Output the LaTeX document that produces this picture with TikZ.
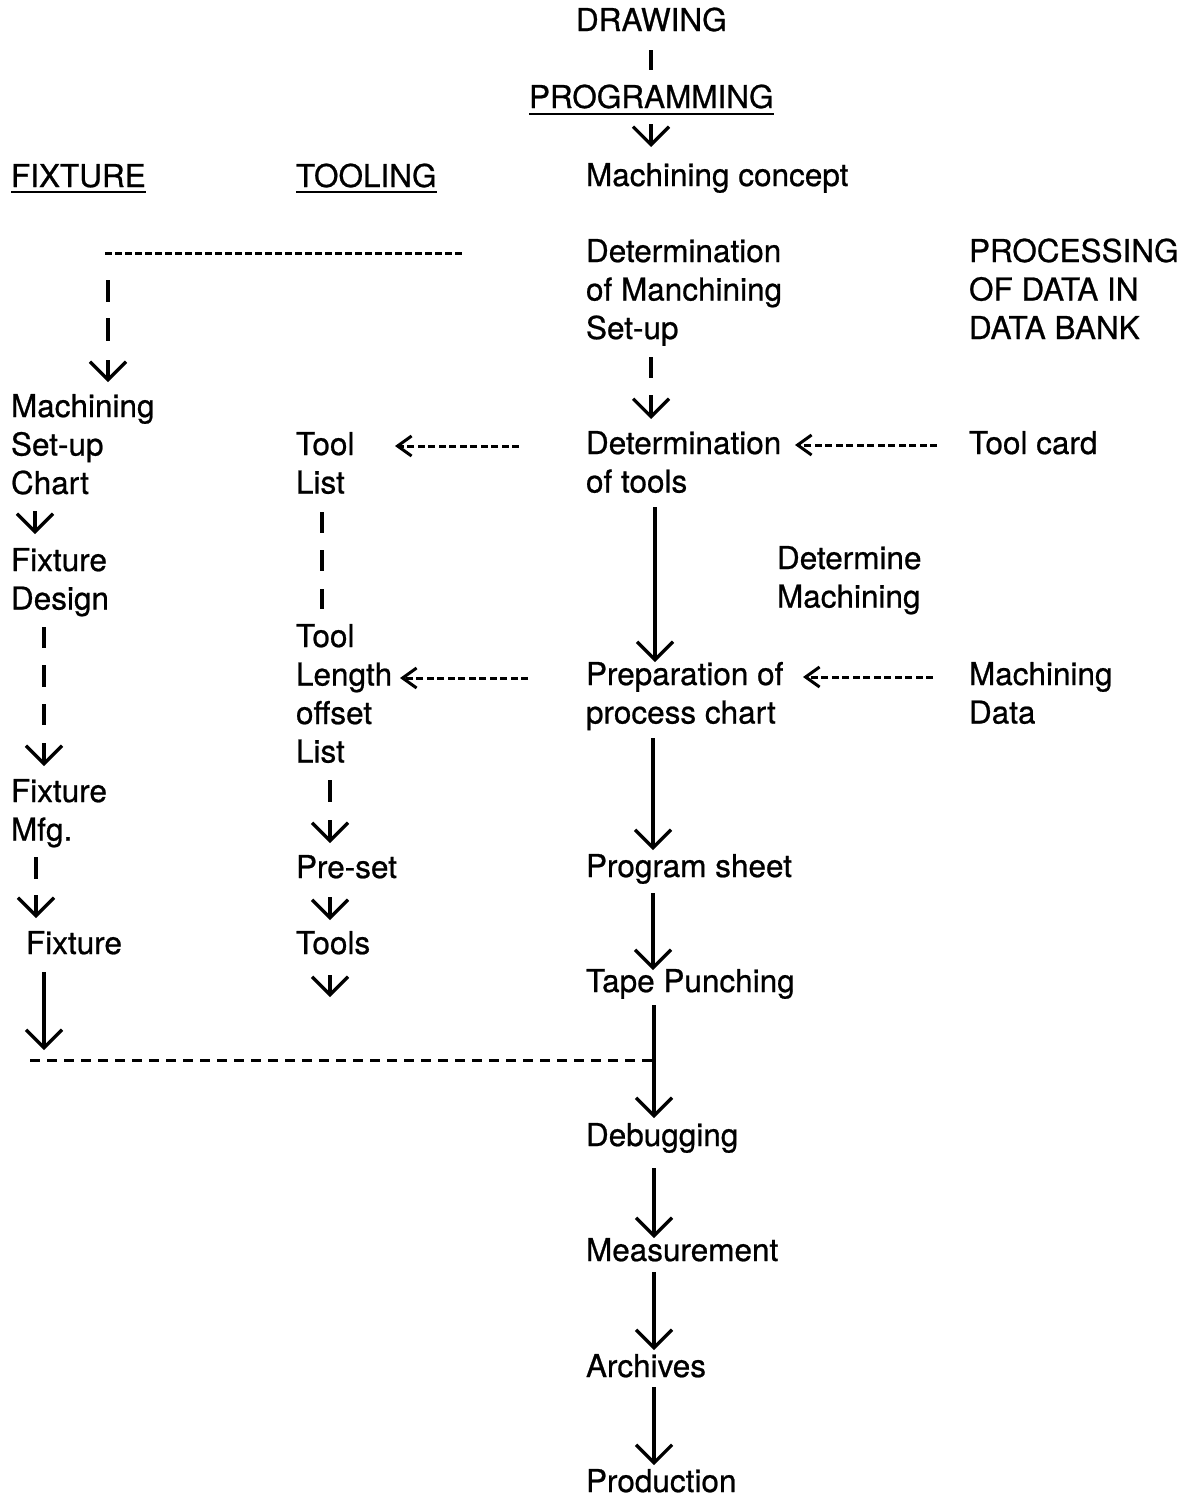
\documentclass[tikz,border=0pt]{standalone}
\usepackage{fontspec}
\setmainfont{TeX Gyre Heros}[FakeBold=0.7]
\usetikzlibrary{arrows.meta}
\newcommand\txl[1]{\begin{tabular}[t]{@{}l@{}}#1\end{tabular}}
\begin{document}
\begin{tikzpicture}[x=1pt,y=-1pt,
  lbl/.style={anchor=base west,inner sep=0pt,outer sep=0pt,font=\fontsize{31.5}{38.5}\selectfont},
  arr/.style={line width=3.2pt,-{Straight Barb[length=18pt,width=36pt]}},
  barline/.style={line width=3.6pt},
  darr/.style={line width=3pt,dash pattern=on 7pt off 3.5pt,-{Straight Barb[length=14pt,width=20pt]}},
  dline/.style={line width=3pt,dash pattern=on 7pt off 3pt},
  dlinewide/.style={line width=3pt,dash pattern=on 10pt off 7pt},
  uline/.style={line width=2.8pt}]
\useasboundingbox[fill=white] (0,0) rectangle (1200,1499);

% ---------- text nodes ----------
\node[lbl] (drawing) at (576,31) {DRAWING};
\node[lbl] (prog) at (529,108) {PROGRAMMING};
\node[lbl] (mconc) at (586,186) {Machining concept};
\node[lbl] (fixh) at (11,187) {FIXTURE};
\node[lbl] (toolh) at (296,187) {TOOLING};
\node[lbl] (detsetup) at (586,262) {\txl{Determination\\of Manchining\\Set-up}};
\node[lbl] (pdb) at (969,262) {\txl{PROCESSING\\OF DATA IN\\DATA BANK}};
\node[lbl] (msc) at (11,417) {\txl{Machining\\Set-up\\Chart}};
\node[lbl] (tlist) at (296,455) {\txl{Tool\\List}};
\node[lbl] (dett) at (586,454) {\txl{Determination\\of tools}};
\node[lbl] (tcard) at (969,454) {Tool card};
\node[lbl] (fdes) at (11,571) {\txl{Fixture\\Design}};
\node[lbl] (detm) at (777,569) {\txl{Determine\\Machining}};
\node[lbl] (tlol) at (296,647) {\txl{Tool\\Length\\offset\\List}};
\node[lbl] (prep) at (586,685) {\txl{Preparation of\\process chart}};
\node[lbl] (mdata) at (969,685) {\txl{Machining\\Data}};
\node[lbl] (fmfg) at (11,802) {\txl{Fixture\\Mfg.}};
\node[lbl] (preset) at (296,878) {Pre-set};
\node[lbl] (psheet) at (586,877) {Program sheet};
\node[lbl] (fixt) at (26,954) {Fixture};
\node[lbl] (tools) at (296,954) {Tools};
\node[lbl] (tape) at (586,992) {Tape Punching};
\node[lbl] (debug) at (586,1146) {Debugging};
\node[lbl] (meas) at (586,1261) {Measurement};
\node[lbl] (arch) at (586,1377) {Archives};
\node[lbl] (prod) at (586,1492) {Production};

% ---------- underlines ----------
\draw[uline] ([yshift=-6pt]prog.base west) -- ([yshift=-6pt]prog.base east);
\draw[uline] ([yshift=-5pt]fixh.base west) -- ([yshift=-5pt]fixh.base east);
\draw[uline] ([yshift=-5pt]toolh.base west) -- ([yshift=-5pt]toolh.base east);

% ---------- connector end points ----------
\coordinate (b1a) at (651,50);  \coordinate (b1b) at (651,70);
\coordinate (b2a) at (108,280); \coordinate (b2b) at (108,302);
\coordinate (b3a) at (108,318); \coordinate (b3b) at (108,341);
\coordinate (b4a) at (651,357); \coordinate (b4b) at (651,378);
\coordinate (b5a) at (322,512); \coordinate (b5b) at (322,533);
\coordinate (b6a) at (322,550); \coordinate (b6b) at (322,571);
\coordinate (b7a) at (322,589); \coordinate (b7b) at (322,609);
\coordinate (b8a) at (44,627);  \coordinate (b8b) at (44,648);
\coordinate (b9a) at (44,665);  \coordinate (b9b) at (44,687);
\coordinate (b10a) at (44,704); \coordinate (b10b) at (44,725);
\coordinate (b11a) at (330,780); \coordinate (b11b) at (330,802);
\coordinate (b12a) at (36,857); \coordinate (b12b) at (36,879);

\coordinate (s1a) at (651,124); \coordinate (s1b) at (651,147);
\coordinate (s2a) at (108,360); \coordinate (s2b) at (108,382);
\coordinate (s3a) at (651,395); \coordinate (s3b) at (651,419);
\coordinate (s4a) at (35,511);  \coordinate (s4b) at (35,534);
\coordinate (s5a) at (44,743);  \coordinate (s5b) at (44,766);
\coordinate (s6a) at (330,820); \coordinate (s6b) at (330,843);
\coordinate (s7a) at (36,895);  \coordinate (s7b) at (36,918);
\coordinate (s8a) at (330,897); \coordinate (s8b) at (330,920);
\coordinate (s9a) at (330,975); \coordinate (s9b) at (330,997);

\coordinate (l1a) at (655,507);  \coordinate (l1b) at (655,662);
\coordinate (l2a) at (653,738);  \coordinate (l2b) at (653,850);
\coordinate (l3a) at (653,893);  \coordinate (l3b) at (653,970);
\coordinate (l4a) at (44,972);   \coordinate (l4b) at (44,1050);
\coordinate (l5a) at (654,1005); \coordinate (l5b) at (654,1118);
\coordinate (l6a) at (654,1168); \coordinate (l6b) at (654,1238);
\coordinate (l7a) at (654,1272); \coordinate (l7b) at (654,1350);
\coordinate (l8a) at (654,1387); \coordinate (l8b) at (654,1465);

\coordinate (dtopa) at (105,253); \coordinate (dtopb) at (463,253);
\coordinate (dbota) at (30,1060); \coordinate (dbotb) at (653,1060);

\coordinate (da1s) at (519,446); \coordinate (da1e) at (395,446);
\coordinate (da2s) at (937,445); \coordinate (da2e) at (795,445);
\coordinate (da3s) at (528,678); \coordinate (da3e) at (400,678);
\coordinate (da4s) at (933,677); \coordinate (da4e) at (803,677);

% ---------- bars ----------
\foreach \i in {1,...,12} {\draw[barline] (b\i a) -- (b\i b);}
% ---------- short arrows ----------
\foreach \i in {1,...,9} {\draw[arr] (s\i a) -- (s\i b);}
% ---------- long arrows ----------
\foreach \i in {1,...,8} {\draw[arr] (l\i a) -- (l\i b);}
% ---------- dashed lines ----------
\draw[dline] (dtopa) -- (dtopb);
\draw[dlinewide] (dbota) -- (dbotb);
% ---------- dashed arrows ----------
\foreach \i in {1,...,4} {\draw[darr] (da\i s) -- (da\i e);}
\end{tikzpicture}
\end{document}
